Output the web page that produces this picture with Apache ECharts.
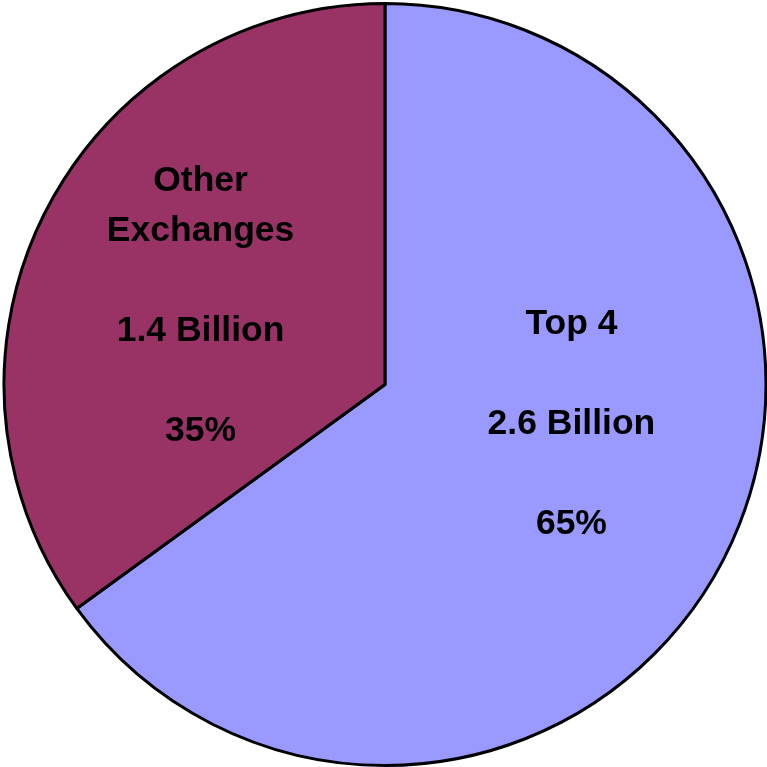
<!DOCTYPE html>
<html>
<head>
<meta charset="utf-8">
<script src="https://cdn.jsdelivr.net/npm/echarts@6/dist/echarts.min.js"></script>
<style>
  html, body { margin: 0; padding: 0; background: #ffffff; }
  #chart { width: 767px; height: 767px; }
</style>
</head>
<body>
<div id="chart"></div>
<script>
// Share of volume by exchange group
const categories = ['Top 4', 'Other\nExchanges'];
const volumes = [2.6, 1.4];           // billions
const percents = [65, 35];
const colors = ['#9999FF', '#993366'];

// Per-slice label nudges from the default inside position
const labelShift = [[14, -48], [-12, 10]];

const data = categories.map((name, i) => ({
  name: name,
  value: volumes[i],
  itemStyle: { color: colors[i] }
}));

const chart = echarts.init(document.getElementById('chart'), null, { renderer: 'canvas' });
chart.setOption({
  animation: false,
  backgroundColor: '#ffffff',
  series: [{
    type: 'pie',
    center: [385, 384.5],
    radius: [0, 381],
    startAngle: 90,
    clockwise: true,
    data: data,
    itemStyle: { borderColor: '#000000', borderWidth: 3 },
    emphasis: { disabled: true },
    label: {
      show: true,
      position: 'inside',
      color: '#000000',
      fontFamily: 'Liberation Sans, Arial, sans-serif',
      fontWeight: 'bold',
      fontSize: 35.5,
      lineHeight: 50,
      align: 'center',
      formatter: function (p) {
        const i = p.dataIndex;
        return categories[i] + '\n\n' + volumes[i].toFixed(1) + ' Billion\n\n' + percents[i] + '%';
      }
    },
    labelLine: { show: false },
    labelLayout: function (params) {
      const s = labelShift[params.dataIndex];
      return { dx: s[0], dy: s[1] };
    }
  }]
});
</script>
</body>
</html>
